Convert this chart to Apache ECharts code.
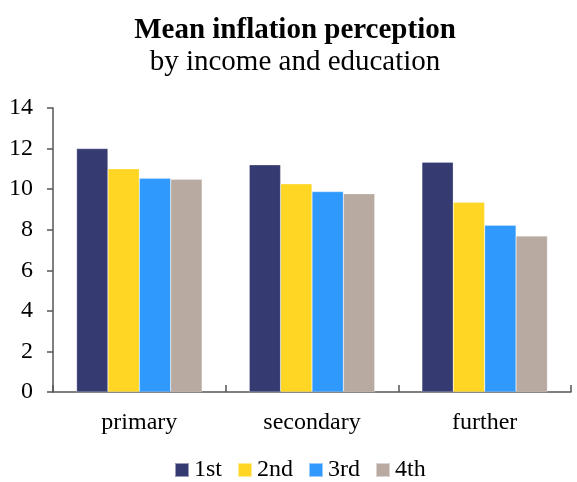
<!DOCTYPE html>
<html><head><meta charset="utf-8">
<script src="https://cdn.jsdelivr.net/npm/echarts@6/dist/echarts.min.js"></script>
<style>html,body{margin:0;padding:0;background:#fff}#c{width:577px;height:482px}</style>
</head><body><div id="c"></div>
<script>
var categories = ['primary', 'secondary', 'further'];
var seriesNames = ['1st', '2nd', '3rd', '4th'];
var s1 = [12.0, 11.2, 11.33];
var s2 = [11.0, 10.26, 9.36];
var s3 = [10.54, 9.88, 8.22];
var s4 = [10.49, 9.77, 7.69];
var colors = ['#353A70', '#FFD624', '#3099FD', '#B8A9A1'];
var yTicks = [0, 2, 4, 6, 8, 10, 12, 14];

var font = '"Liberation Serif", "Times New Roman", serif';
var chart = echarts.init(document.getElementById('c'));
var data = [s1, s2, s3, s4];
chart.setOption({
  animation: false,
  title: {
    text: 'Mean inflation perception',
    subtext: 'by income and education',
    left: 290, top: 11, textAlign: 'center',
    textStyle: {fontFamily: font, fontWeight: 'bold', fontSize: 29, color: '#000'},
    subtextStyle: {fontFamily: font, fontSize: 29, color: '#000'},
    itemGap: 3
  },
  legend: {
    data: seriesNames, bottom: 0, left: 174, padding: 0,
    itemWidth: 14, itemHeight: 14, itemGap: 15,
    icon: 'rect',
    textStyle: {fontFamily: font, fontSize: 24, color: '#000'}
  },
  grid: {left: 53, right: 6, top: 108, bottom: 90, containLabel: false},
  xAxis: {
    type: 'category', data: categories,
    axisLine: {lineStyle: {color: '#555', width: 1.5}},
    axisTick: {show: true, inside: true, length: 7, lineStyle: {color: '#555', width: 1.5}},
    axisLabel: {fontFamily: font, fontSize: 24, color: '#000', margin: 19}
  },
  yAxis: {
    type: 'value', min: 0, max: 14, interval: 2,
    splitLine: {show: false},
    axisLine: {show: true, lineStyle: {color: '#555', width: 1.5}},
    axisTick: {show: true, length: 6, lineStyle: {color: '#555', width: 1.5}},
    axisLabel: {fontFamily: font, fontSize: 24, color: '#000', margin: 20,
      formatter: function (v) { return yTicks.indexOf(v) >= 0 ? String(v) : ''; }}
  },
  series: seriesNames.map(function (n, i) {
    return {
      name: n, type: 'bar', data: data[i],
      barGap: '0%', barCategoryGap: '27.3%',
      itemStyle: {color: colors[i], borderColor: 'rgba(255,255,255,0.5)', borderWidth: 0.5}
    };
  })
});
</script></body></html>
